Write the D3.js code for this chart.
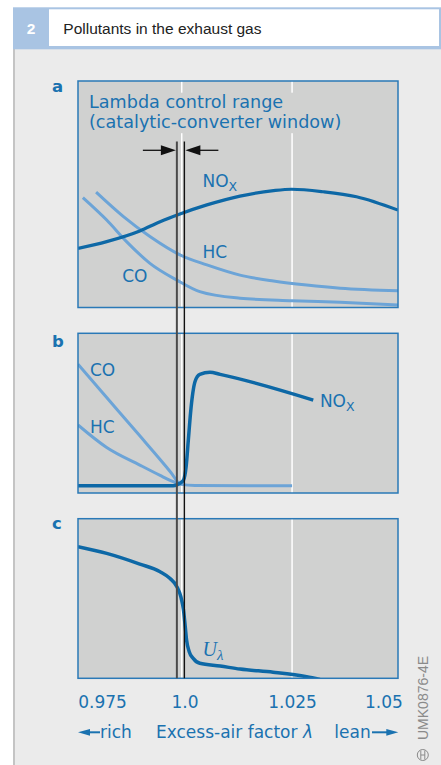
<!DOCTYPE html>
<html><head><meta charset="utf-8">
<script src="https://cdn.jsdelivr.net/npm/d3@7"></script>
<style>
html,body{margin:0;padding:0;background:#fff;}
svg{display:block;}
</style></head>
<body>
<svg id="chart" width="441" height="765"></svg>
<script>
// ---------------- data ----------------
const title = "Pollutants in the exhaust gas";
const figNumber = "2";
const tickValues = [0.975, 1.0, 1.025, 1.05];
const tickLabels = ["0.975", "1.0", "1.025", "1.05"];
const gridValues = [1.0, 1.025];
const lambdaWindow = [0.9989, 1.0006];

// panel a
const lambdaNoxA = [0.9765, 0.983, 0.9905, 0.9951, 0.9996, 1.0057, 1.0132, 1.0208, 1.0249, 1.0321, 1.0396, 1.049];
const noxA =       [26.1,   29.1,  33.8,   37.9,   41.3,   45.3,   49.2,   51.6,   52.2,   51.1,   48.9,   43.0];
const lambdaHcA = [0.9806, 0.9868, 0.9928, 0.9996, 1.0057, 1.0132, 1.0208, 1.0283, 1.0359, 1.049];
const hcA =       [50.9,   40.1,   31.3,   23.2,   18.8,   14.3,   11.7,   9.9,    8.5,    7.4];
const lambdaCoA = [0.9776, 0.983, 0.9875, 0.9928, 0.9989, 1.0041, 1.0132, 1.025, 1.0359, 1.049];
const coA =       [48.5,   38.6,  29.1,   19.5,   12.1,   7.0,    4.1,    3.0,   2.3,    1.1];

// panel b
const lambdaCoB = [0.9765, 0.983, 0.9905, 0.9951, 0.9975, 0.9998, 1.003, 1.015, 1.025];
const coB =       [80.6,   59.8,  35.8,   21.0,   13.0,   5.4,    4.7,   4.5,   4.5];
const lambdaHcB = [0.9765, 0.983, 0.9905, 0.9951, 0.9975, 0.9998];
const hcB =       [42.6,   28.5,  17.5,   11.0,   7.8,    5.4];
const lambdaNoxB = [0.9765, 0.9981, 0.9996, 1.0004, 1.001, 1.0015, 1.002, 1.0025, 1.003, 1.0041, 1.0064, 1.0087, 1.0298];
const noxB =       [4.6,    4.6,    6.1,    8.1,    16.5,  33.2,   50.1,  62.4,   69.7,  74.3,   75.6,   74.3,   58.2];

// panel c
const lambdaU = [0.9765, 0.983, 0.9905, 0.9951, 0.9973, 0.9989, 0.9998, 1.0004, 1.0008, 1.0011, 1.0017, 1.0026, 1.0041, 1.0087, 1.0132, 1.0207, 1.0283, 1.0313];
const uLambda = [82.5,   78.3,  71.6,   66.8,   62.7,   57.4,   51.1,   42.8,   32.3,   24.0,   16.7,   12.5,   9.4,    7.7,    5.8,    3.8,    1.0,    -0.7];

const panelLetters = ["a", "b", "c"];
const controlText = ["Lambda control range", "(catalytic-converter window)"];
const axisTitle = "Excess-air factor ";
const richText = "rich", leanText = "lean";
const docCode = "UMK0876-4E";

// ---------------- styles ----------------
const C = {
  bg: "#ebebeb", panel: "#d0d1d0", frame: "#2a79b7", dark: "#0d68a6",
  light: "#6ca4d7", text: "#1a72b0", head: "#a9c4e3", gray: "#8a8a8a"
};
const FONT = "'DejaVu Sans', sans-serif";

const svg = d3.select("#chart");

// page background and header
svg.append("rect").attr("x", 13).attr("y", 49).attr("width", 428).attr("height", 716).attr("fill", C.bg);
svg.append("rect").attr("x", 13).attr("y", 49).attr("width", 2).attr("height", 716).attr("fill", "#c4c4c4");
svg.append("rect").attr("x", 13).attr("y", 7.3).attr("width", 428).attr("height", 42).attr("fill", C.head);
svg.append("rect").attr("x", 49).attr("y", 9.3).attr("width", 390).attr("height", 36.7).attr("fill", "#fff");
svg.append("text").attr("x", 31).attr("y", 34.3).attr("text-anchor", "middle")
  .attr("font-family", "'Liberation Sans', Arial, sans-serif").attr("font-weight", "bold")
  .attr("font-size", 15.5).attr("fill", "#fff").text(figNumber);
svg.append("text").attr("x", 63.3).attr("y", 34.3)
  .attr("font-family", "'Liberation Sans', Arial, sans-serif")
  .attr("font-size", 15.5).attr("fill", "#222").text(title);

// scales
const x = d3.scaleLinear().domain([0.9765, 1.049]).range([78, 398]);
const panels = [
  {top: 81, bottom: 307.5},
  {top: 333.3, bottom: 493},
  {top: 518.7, bottom: 678.3}
];
panels.forEach(p => { p.y = d3.scaleLinear().domain([0, 100]).range([p.bottom, p.top]); });

const defs = svg.append("defs");
panels.forEach((p, i) => {
  defs.append("clipPath").attr("id", "clip" + i).append("rect")
    .attr("x", x.range()[0]).attr("y", p.top)
    .attr("width", x.range()[1] - x.range()[0]).attr("height", p.bottom - p.top);
});

// panel backgrounds + grid
panels.forEach((p, i) => {
  const g = svg.append("g");
  g.append("rect").attr("x", x.range()[0]).attr("y", p.top)
    .attr("width", x.range()[1] - x.range()[0]).attr("height", p.bottom - p.top)
    .attr("fill", C.panel);
  g.selectAll("line.grid").data(gridValues).join("line")
    .attr("x1", d => x(d)).attr("x2", d => x(d))
    .attr("y1", p.top).attr("y2", p.bottom)
    .attr("stroke", "#fff").attr("stroke-width", 1.5);
  svg.append("text").attr("x", 52).attr("y", [91.7, 346.7, 529.3][i])
    .attr("font-family", FONT).attr("font-weight", "bold").attr("font-size", 16.5)
    .attr("fill", C.text).text(panelLetters[i]);
  p.g = g;
});

// control range text in panel a (with knockout background)
const ctl = svg.append("g");
const ctlText = ctl.append("text").attr("font-family", FONT).attr("font-size", 17.6).attr("fill", C.text);
ctlText.selectAll("tspan").data(controlText).join("tspan")
  .attr("x", 89).attr("y", (d, i) => 107.7 + i * 20.5).text(d => d);
const bb = ctlText.node().getBBox();
ctl.insert("rect", "text").attr("x", bb.x - 2).attr("y", bb.y + 1).attr("width", bb.width + 4)
  .attr("height", bb.height).attr("fill", C.panel);

// line generator
function drawLine(pi, xs, ys, color, width) {
  const p = panels[pi];
  const data = xs.map((d, i) => [d, ys[i]]);
  const line = d3.line().x(d => x(d[0])).y(d => p.y(d[1])).curve(d3.curveMonotoneX);
  svg.append("path").datum(data).attr("d", line)
    .attr("clip-path", "url(#clip" + pi + ")")
    .attr("fill", "none").attr("stroke", color).attr("stroke-width", width)
    .attr("stroke-linejoin", "round").attr("stroke-linecap", "butt");
}

drawLine(0, lambdaCoA, coA, C.light, 3);
drawLine(0, lambdaHcA, hcA, C.light, 3);
drawLine(0, lambdaNoxA, noxA, C.dark, 3.2);

drawLine(1, lambdaCoB, coB, C.light, 3);
drawLine(1, lambdaHcB, hcB, C.light, 3);
drawLine(1, lambdaNoxB, noxB, C.dark, 3.5);

drawLine(2, lambdaU, uLambda, C.dark, 3.5);

// frames
panels.forEach(p => {
  svg.append("rect").attr("x", x.range()[0]).attr("y", p.top)
    .attr("width", x.range()[1] - x.range()[0]).attr("height", p.bottom - p.top)
    .attr("fill", "none").attr("stroke", C.frame).attr("stroke-width", 1.5);
});

// curve labels
function label(pi, lx, ly, main, sub) {
  const t = svg.append("text").attr("x", x(lx)).attr("y", panels[pi].y(ly))
    .attr("font-family", FONT).attr("font-size", 17).attr("fill", C.text).text(main);
  if (sub) t.append("tspan").attr("font-size", 12.5).attr("dy", 4).text(sub);
}
label(0, 1.0047, 53.3, "NO", "X");
label(0, 1.0047, 22, "HC");
label(0, 0.9865, 11.4, "CO");
label(1, 0.9792, 73.3, "CO");
label(1, 0.9792, 37.4, "HC");
label(1, 1.0313, 53.7, "NO", "X");
const ul = svg.append("text").attr("x", x(1.0047)).attr("y", panels[2].y(14))
  .attr("font-family", "'Liberation Serif', 'DejaVu Serif', serif").attr("font-style", "italic")
  .attr("font-size", 20).attr("fill", C.text).text("U");
ul.append("tspan").attr("font-size", 15).attr("dy", 4).text("λ");

// lambda window lines
const wTop = 141.5, wBot = panels[2].bottom;
svg.append("line").attr("x1", x(lambdaWindow[0])).attr("x2", x(lambdaWindow[0]))
  .attr("y1", wTop).attr("y2", wBot).attr("stroke", "#4a4a4a").attr("stroke-width", 2);
svg.append("line").attr("x1", x(lambdaWindow[1])).attr("x2", x(lambdaWindow[1]))
  .attr("y1", wTop).attr("y2", wBot).attr("stroke", "#111").attr("stroke-width", 1.4);

// window arrows
const ay = 150.3;
const xl = x(lambdaWindow[0]) - 1, xr = x(lambdaWindow[1]) + 1;
svg.append("line").attr("x1", xl - 33).attr("x2", xl - 10).attr("y1", ay).attr("y2", ay).attr("stroke", "#111").attr("stroke-width", 1.3);
svg.append("path").attr("d", `M${xl},${ay} L${xl - 15},${ay - 5} L${xl - 15},${ay + 5} Z`).attr("fill", "#111");
svg.append("line").attr("x1", xr + 10).attr("x2", xr + 33).attr("y1", ay).attr("y2", ay).attr("stroke", "#111").attr("stroke-width", 1.3);
svg.append("path").attr("d", `M${xr},${ay} L${xr + 15},${ay - 5} L${xr + 15},${ay + 5} Z`).attr("fill", "#111");

// x axis tick labels
const axis = d3.axisBottom(x).tickValues(tickValues).tickFormat((d, i) => tickLabels[i])
  .tickSize(0).tickSizeOuter(0).tickPadding(18);
const ag = svg.append("g").attr("transform", `translate(0,${panels[2].bottom})`).call(axis);
ag.select(".domain").remove();
ag.selectAll("text").attr("font-family", FONT).attr("font-size", 17).attr("fill", C.text)
  .attr("text-anchor", (d, i) => i === 0 ? "start" : (i === tickValues.length - 1 ? "end" : "middle"))
  .attr("dx", (d, i) => i === 0 ? 6.3 : (i === 1 ? 2.8 : 0));

// axis title row
const by = 738.3, ary = 732.3;
svg.append("path").attr("d", `M78,${ary} L90,${ary - 3.4} L90,${ary + 3.4} Z`).attr("fill", C.text);
svg.append("line").attr("x1", 89).attr("x2", 100).attr("y1", ary).attr("y2", ary).attr("stroke", C.text).attr("stroke-width", 2);
svg.append("text").attr("x", 100).attr("y", by).attr("font-family", FONT).attr("font-size", 17).attr("fill", C.text).text(richText);
const at = svg.append("text").attr("x", 156).attr("y", by).attr("font-family", FONT).attr("font-size", 17).attr("fill", C.text).text(axisTitle);
at.append("tspan").attr("font-style", "italic").text("λ");
svg.append("text").attr("x", 370.7).attr("y", by).attr("text-anchor", "end").attr("font-family", FONT).attr("font-size", 17).attr("fill", C.text).text(leanText);
svg.append("line").attr("x1", 372).attr("x2", 387).attr("y1", ary).attr("y2", ary).attr("stroke", C.text).attr("stroke-width", 2);
svg.append("path").attr("d", `M398.3,${ary} L386.3,${ary - 3.4} L386.3,${ary + 3.4} Z`).attr("fill", C.text);

// document code
svg.append("text").attr("transform", "translate(428,740) rotate(-90)")
  .attr("font-family", "'Liberation Sans', Arial, sans-serif").attr("font-size", 14).attr("fill", C.gray).text(docCode);
const sym = svg.append("g").attr("transform", "translate(422.8,755)").attr("stroke", C.gray).attr("fill", "none").attr("stroke-width", 1);
sym.append("circle").attr("r", 5.5);
sym.append("line").attr("x1", -2).attr("x2", -2).attr("y1", -4.5).attr("y2", 4.5);
sym.append("line").attr("x1", 2).attr("x2", 2).attr("y1", -4.5).attr("y2", 4.5);
sym.append("line").attr("x1", -2).attr("x2", 2).attr("y1", 0).attr("y2", 0);
</script>
</body></html>
